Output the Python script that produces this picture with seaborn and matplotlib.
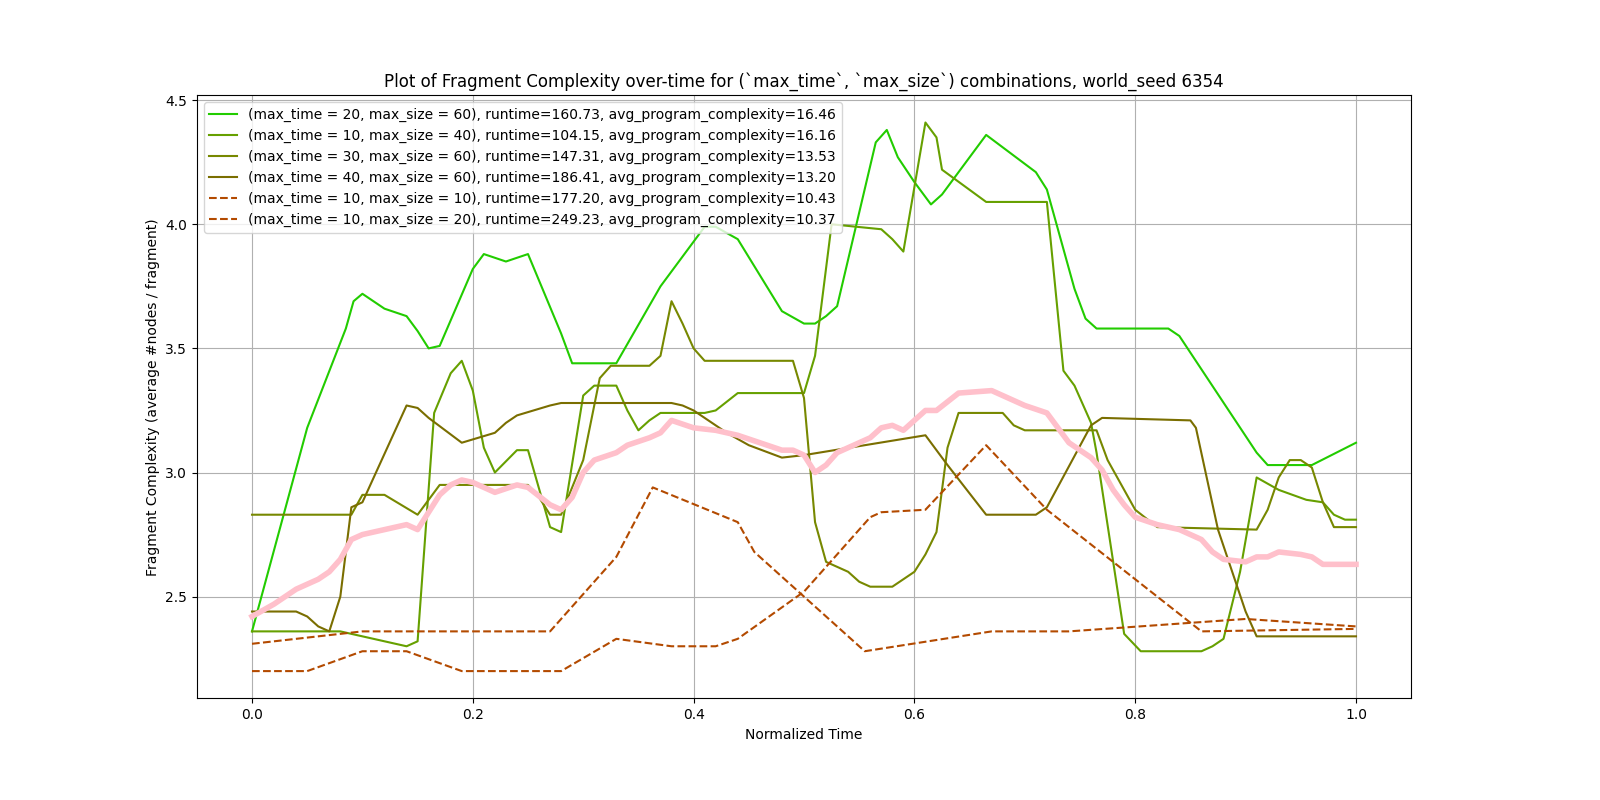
import matplotlib
matplotlib.use("Agg")
import matplotlib.pyplot as plt
import seaborn as sns

# series (x = normalized time, y = complexity)
x_t20_s60 = [0, 0.05, 0.085, 0.092, 0.1, 0.12, 0.14, 0.15, 0.16, 0.17, 0.2, 0.21, 0.23, 0.25, 0.28, 0.29,
             0.33, 0.37, 0.41, 0.42, 0.44, 0.48, 0.5, 0.51, 0.52, 0.53, 0.565, 0.575, 0.585, 0.6, 0.615,
             0.625, 0.665, 0.71, 0.72, 0.745, 0.755, 0.765, 0.83, 0.84, 0.91, 0.92, 0.96, 1.0]
y_t20_s60 = [2.36, 3.18, 3.58, 3.69, 3.72, 3.66, 3.63, 3.57, 3.50, 3.51, 3.82, 3.88, 3.85, 3.88, 3.56, 3.44,
             3.44, 3.75, 3.99, 3.99, 3.94, 3.65, 3.60, 3.60, 3.63, 3.67, 4.33, 4.38, 4.27, 4.17, 4.08,
             4.12, 4.36, 4.21, 4.14, 3.74, 3.62, 3.58, 3.58, 3.55, 3.08, 3.03, 3.03, 3.12]

x_t10_s40 = [0, 0.08, 0.1, 0.14, 0.15, 0.165, 0.18, 0.19, 0.2, 0.21, 0.22, 0.24, 0.25, 0.27, 0.28, 0.3,
             0.31, 0.33, 0.34, 0.35, 0.36, 0.37, 0.41, 0.42, 0.44, 0.5, 0.51, 0.525, 0.57, 0.58, 0.59,
             0.61, 0.62, 0.625, 0.665, 0.72, 0.735, 0.745, 0.76, 0.765, 0.79, 0.805, 0.86, 0.87, 0.88,
             0.895, 0.91, 0.93, 0.955, 0.97, 0.98, 0.99, 1.0]
y_t10_s40 = [2.36, 2.36, 2.34, 2.30, 2.32, 3.24, 3.40, 3.45, 3.33, 3.10, 3.00, 3.09, 3.09, 2.78, 2.76, 3.31,
             3.35, 3.35, 3.25, 3.17, 3.21, 3.24, 3.24, 3.25, 3.32, 3.32, 3.47, 4.00, 3.98, 3.94, 3.89,
             4.41, 4.35, 4.22, 4.09, 4.09, 3.41, 3.35, 3.20, 3.08, 2.35, 2.28, 2.28, 2.30, 2.33,
             2.60, 2.98, 2.93, 2.89, 2.88, 2.83, 2.81, 2.81]

x_t30_s60 = [0, 0.09, 0.1, 0.12, 0.15, 0.17, 0.25, 0.26, 0.27, 0.28, 0.3, 0.315, 0.325, 0.36, 0.37, 0.38,
             0.39, 0.4, 0.41, 0.49, 0.5, 0.51, 0.52, 0.54, 0.55, 0.56, 0.58, 0.6, 0.61, 0.62, 0.63, 0.64,
             0.68, 0.69, 0.7, 0.765, 0.775, 0.8, 0.82, 0.91, 0.92, 0.93, 0.94, 0.95, 0.96, 0.97, 0.98, 1.0]
y_t30_s60 = [2.83, 2.83, 2.91, 2.91, 2.83, 2.95, 2.95, 2.90, 2.83, 2.83, 3.05, 3.38, 3.43, 3.43, 3.47, 3.69,
             3.60, 3.50, 3.45, 3.45, 3.30, 2.80, 2.64, 2.60, 2.56, 2.54, 2.54, 2.60, 2.67, 2.76, 3.10, 3.24,
             3.24, 3.19, 3.17, 3.17, 3.05, 2.85, 2.78, 2.77, 2.85, 2.98, 3.05, 3.05, 3.02, 2.88, 2.78, 2.78]

x_t40_s60 = [0, 0.04, 0.05, 0.06, 0.07, 0.08, 0.09, 0.1, 0.14, 0.15, 0.16, 0.19, 0.22, 0.23, 0.24, 0.27,
             0.28, 0.38, 0.39, 0.4, 0.43, 0.45, 0.48, 0.5, 0.61, 0.63, 0.665, 0.71, 0.72, 0.76, 0.77,
             0.85, 0.855, 0.875, 0.9, 0.91, 1.0]
y_t40_s60 = [2.44, 2.44, 2.42, 2.38, 2.36, 2.50, 2.86, 2.88, 3.27, 3.26, 3.22, 3.12, 3.16, 3.20, 3.23, 3.27,
             3.28, 3.28, 3.27, 3.25, 3.16, 3.11, 3.06, 3.07, 3.15, 3.03, 2.83, 2.83, 2.86, 3.19, 3.22,
             3.21, 3.18, 2.77, 2.44, 2.34, 2.34]

x_t10_s10 = [0, 0.1, 0.27, 0.33, 0.363, 0.44, 0.455, 0.555, 0.67, 0.74, 0.9, 1.0]
y_t10_s10 = [2.31, 2.36, 2.36, 2.66, 2.94, 2.80, 2.68, 2.28, 2.36, 2.36, 2.41, 2.38]

x_t10_s20 = [0, 0.05, 0.1, 0.14, 0.19, 0.28, 0.33, 0.38, 0.42, 0.44, 0.5, 0.56, 0.57, 0.61, 0.665, 0.72, 0.86, 1.0]
y_t10_s20 = [2.20, 2.20, 2.28, 2.28, 2.20, 2.20, 2.33, 2.30, 2.30, 2.33, 2.52, 2.82, 2.84, 2.85, 3.11, 2.85, 2.36, 2.37]

x_mean = [0, 0.02, 0.04, 0.06, 0.07, 0.08, 0.09, 0.1, 0.12, 0.14, 0.15, 0.17, 0.18, 0.19, 0.2, 0.22, 0.24,
          0.25, 0.27, 0.28, 0.29, 0.3, 0.31, 0.33, 0.34, 0.36, 0.37, 0.38, 0.4, 0.42, 0.44, 0.46, 0.48,
          0.49, 0.5, 0.51, 0.52, 0.53, 0.55, 0.56, 0.57, 0.58, 0.59, 0.61, 0.62, 0.64, 0.67, 0.68, 0.7,
          0.72, 0.74, 0.75, 0.76, 0.77, 0.78, 0.79, 0.8, 0.82, 0.84, 0.86, 0.87, 0.88, 0.9, 0.91, 0.92,
          0.93, 0.95, 0.96, 0.97, 0.99, 1.0]
y_mean = [2.42, 2.47, 2.53, 2.57, 2.60, 2.65, 2.73, 2.75, 2.77, 2.79, 2.77, 2.91, 2.95, 2.97, 2.96, 2.92, 2.95,
          2.94, 2.87, 2.85, 2.90, 3.00, 3.05, 3.08, 3.11, 3.14, 3.16, 3.21, 3.18, 3.17, 3.15, 3.12, 3.09,
          3.09, 3.07, 3.00, 3.03, 3.08, 3.12, 3.14, 3.18, 3.19, 3.17, 3.25, 3.25, 3.32, 3.33, 3.31, 3.27,
          3.24, 3.12, 3.09, 3.06, 3.01, 2.93, 2.87, 2.82, 2.79, 2.77, 2.73, 2.68, 2.65, 2.64, 2.66, 2.66,
          2.68, 2.67, 2.66, 2.63, 2.63, 2.63]

series = [
    (x_t20_s60, y_t20_s60, "(max_time = 20, max_size = 60), runtime=160.73, avg_program_complexity=16.46", "#22cc00", "-"),
    (x_t10_s40, y_t10_s40, "(max_time = 10, max_size = 40), runtime=104.15, avg_program_complexity=16.16", "#66a000", "-"),
    (x_t30_s60, y_t30_s60, "(max_time = 30, max_size = 60), runtime=147.31, avg_program_complexity=13.53", "#778800", "-"),
    (x_t40_s60, y_t40_s60, "(max_time = 40, max_size = 60), runtime=186.41, avg_program_complexity=13.20", "#7a6e00", "-"),
    (x_t10_s10, y_t10_s10, "(max_time = 10, max_size = 10), runtime=177.20, avg_program_complexity=10.43", "#b34a00", "--"),
    (x_t10_s20, y_t10_s20, "(max_time = 10, max_size = 20), runtime=249.23, avg_program_complexity=10.37", "#b34a00", "--"),
]

fig, ax = plt.subplots(figsize=(16, 8), dpi=100)
fig.subplots_adjust(left=0.123, right=0.882, top=0.881, bottom=0.127)

for xs, ys, lab, col, ls in series:
    sns.lineplot(x=xs, y=ys, ax=ax, label=lab, color=col, linestyle=ls, linewidth=1.5)
sns.lineplot(x=x_mean, y=y_mean, ax=ax, color="pink", linewidth=4)

ax.set_xlim(-0.05, 1.05)
ax.set_ylim(2.09, 4.52)
ax.grid(True)
ax.set_xlabel("Normalized Time")
ax.set_ylabel("Fragment Complexity (average #nodes / fragment)")
ax.set_title("Plot of Fragment Complexity over-time for (`max_time`, `max_size`) combinations, world_seed 6354")
ax.legend(loc="upper left")

fig.savefig("out.png")
